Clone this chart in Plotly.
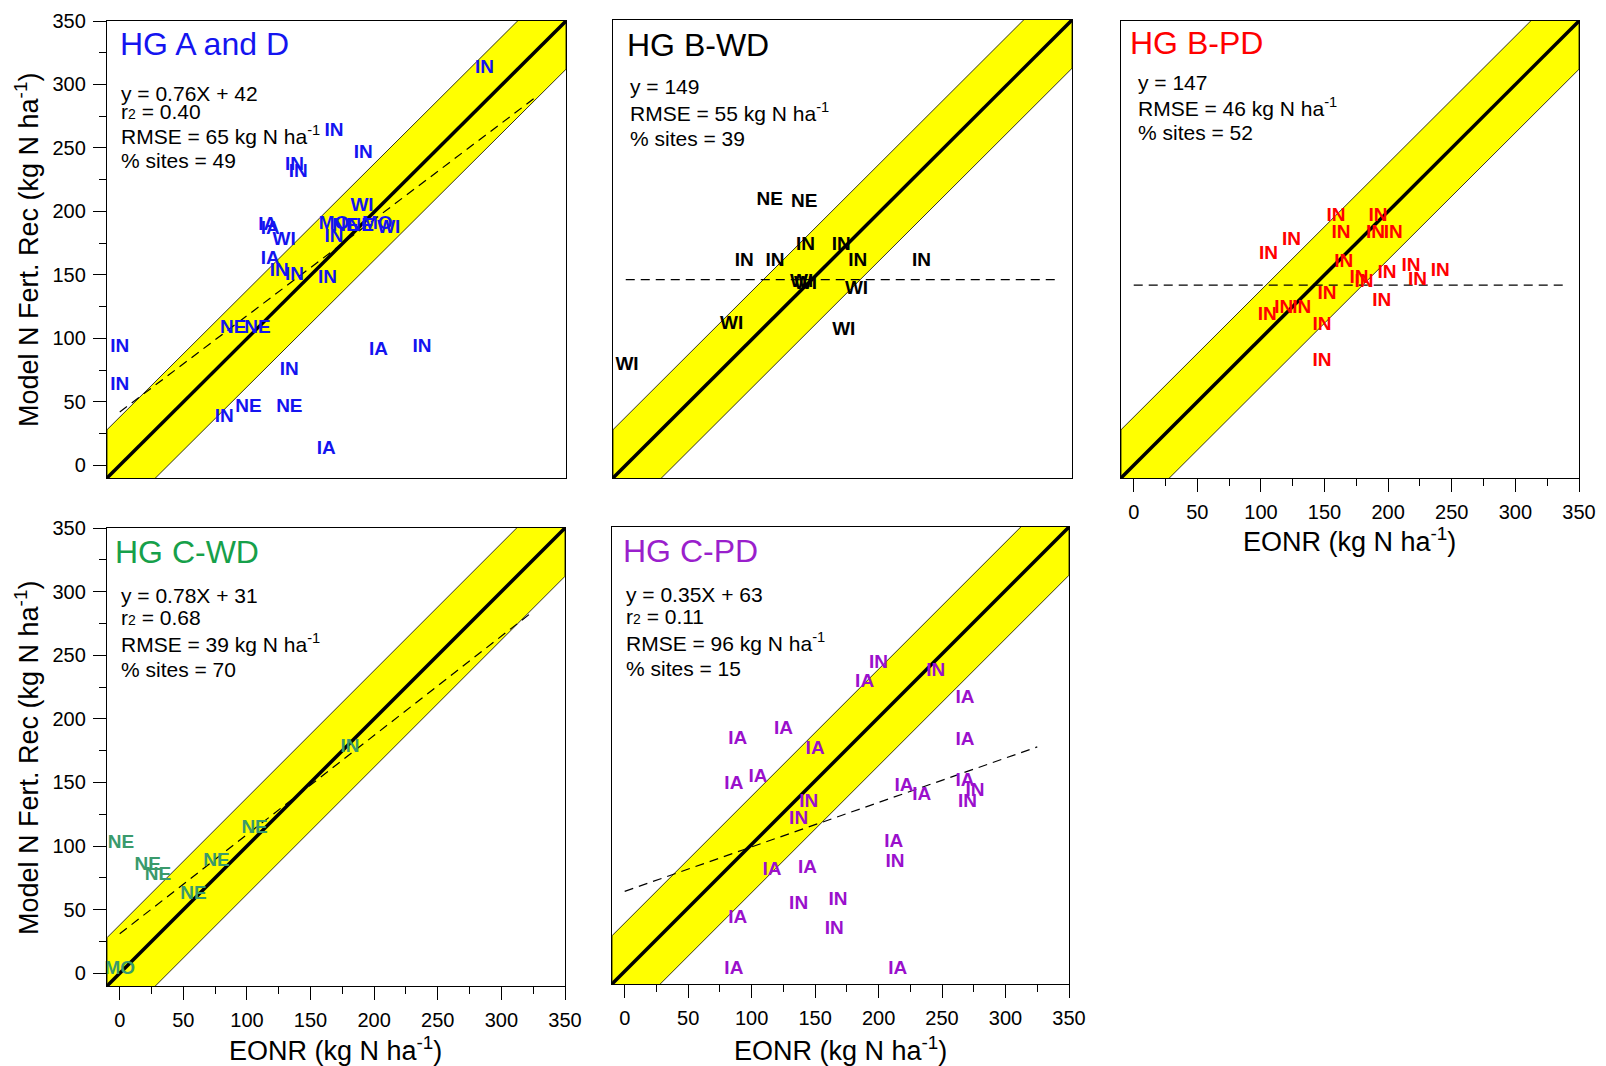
import plotly.graph_objects as go

W, H = 1606, 1066
FONT = "Arial, Liberation Sans, sans-serif"

# ---------------- data ----------------
AX_MIN, AX_MAX = -10, 350
BAND = 38  # half-width of the yellow acceptance band (kg N/ha)

titles = ["HG A and D", "HG B-WD", "HG B-PD", "HG C-WD", "HG C-PD"]
title_colors = ["#1414F0", "#000000", "#FF0000", "#16A04A", "#9A1FCC"]
label_colors = ["#1414F0", "#000000", "#FF0000", "#3A9A6C", "#9A10CC"]

stats = [
    ["y = 0.76X + 42", "r<span style='font-size:14px'>2</span> = 0.40", "RMSE = 65 kg N ha<sup>-1</sup>", "% sites = 49"],
    ["y = 149", "RMSE = 55 kg N ha<sup>-1</sup>", "% sites = 39"],
    ["y = 147", "RMSE = 46 kg N ha<sup>-1</sup>", "% sites = 52"],
    ["y = 0.78X + 31", "r<span style='font-size:14px'>2</span> = 0.68", "RMSE = 39 kg N ha<sup>-1</sup>", "% sites = 70"],
    ["y = 0.35X + 63", "r<span style='font-size:14px'>2</span> = 0.11", "RMSE = 96 kg N ha<sup>-1</sup>", "% sites = 15"],
]

# regression (dashed) lines: slope, intercept, x start, x end
reg_slope = [0.76, 0.0, 0.0, 0.78, 0.35]
reg_icpt = [42, 146, 142, 31, 63]
reg_x0 = [0, 0, 0, 0, 0]
reg_x1 = [325, 341, 341, 325, 325]

# HG A and D
labels_A = ["IN", "IN", "IN", "IN", "IN", "WI", "IA", "IA", "WI", "MO", "NE", "NE", "MO", "WI", "IN",
            "IA", "IN", "IN", "IN", "NE", "NE", "IN", "IA", "IN", "IN", "IN", "NE", "NE", "IN", "IA"]
eonr_A = [286, 168, 191, 137, 140, 190, 116, 118, 129, 168, 177, 189, 202, 211, 168,
          118, 125, 137, 163, 89, 108, 0, 203, 237, 133, 0, 101, 133, 82, 162]
rec_A = [313, 263, 246, 236, 231, 204, 189, 186, 177, 190, 188, 188, 190, 187, 180,
         162, 153, 150, 147, 108, 108, 93, 91, 93, 75, 63, 46, 46, 38, 13]

# HG B-WD
labels_B = ["NE", "NE", "IN", "IN", "IN", "IN", "IN", "IN", "WI", "WI", "WI", "WI", "WI", "WI"]
eonr_B = [113, 140, 141, 169, 93, 117, 182, 232, 138, 141, 181, 83, 171, 1]
rec_B = [208, 207, 173, 173, 160, 160, 160, 160, 144, 142, 138, 111, 106, 79]

# HG B-PD
labels_C = ["IN"] * 21
eonr_C = [159, 192, 163, 190, 204, 124, 106, 165, 177, 181, 199, 218, 223, 241, 152, 195, 105, 118, 132, 148, 148]
rec_C = [196, 196, 183, 183, 183, 177, 166, 160, 147, 144, 151, 157, 146, 153, 135, 129, 118, 124, 124, 110, 82]

# HG C-WD
labels_D = ["IN", "NE", "NE", "NE", "NE", "NE", "NE", "MO"]
eonr_D = [181, 106, 1, 22, 30, 76, 58, 0]
rec_D = [178, 114, 102, 85, 77, 88, 62, 3]

# HG C-PD
labels_E = ["IN", "IA", "IN", "IA", "IA", "IA", "IA", "IA", "IA", "IA", "IN", "IN", "IA", "IA",
            "IA", "IN", "IN", "IA", "IN", "IA", "IA", "IN", "IN", "IN", "IA", "IA", "IA"]
eonr_E = [200, 189, 245, 268, 268, 125, 89, 150, 86, 105, 145, 137, 220, 234,
          268, 276, 270, 212, 213, 116, 144, 137, 168, 165, 89, 86, 215]
rec_E = [243, 228, 236, 215, 182, 191, 183, 175, 147, 153, 133, 120, 146, 139,
         150, 142, 133, 102, 86, 80, 81, 53, 56, 33, 42, 2, 2]

panel_labels = [labels_A, labels_B, labels_C, labels_D, labels_E]
panel_x = [eonr_A, eonr_B, eonr_C, eonr_D, eonr_E]
panel_y = [rec_A, rec_B, rec_C, rec_D, rec_E]

tick_vals = [0, 50, 100, 150, 200, 250, 300, 350]
x_title = "EONR (kg N ha<sup>-1</sup>)"
y_title = "Model N Fert. Rec (kg N ha<sup>-1</sup>)"

# ---------------- layout geometry (pixels) ----------------
boxes = [(107, 21, 566, 478), (613, 20, 1072, 478), (1121, 21, 1579, 478),
         (107, 528, 565, 986), (612, 527, 1069, 984)]
show_x = [False, False, True, True, True]
show_y = [True, False, False, True, False]
title_pos = [(118, 44), (625, 45), (1128, 43), (113, 552), (621, 551)]
stat_left = [119, 628, 1136, 119, 624]
stat_rows = [[93, 112, 135, 160], [87, 112, 138], [83, 107, 133], [595, 617, 643, 669], [594, 616, 642, 668]]

fig = go.Figure()
annotations = []


def px(x):
    return x / W


def py(y):
    return 1 - y / H


for i in range(5):
    n = "" if i == 0 else str(i + 1)
    xa, ya = "x" + n, "y" + n
    # yellow band
    bx = [AX_MIN, AX_MIN, AX_MAX, AX_MAX, AX_MIN]
    by = [AX_MIN + BAND, AX_MIN - BAND, AX_MAX - BAND, AX_MAX + BAND, AX_MIN + BAND]
    fig.add_trace(go.Scatter(x=bx, y=by, mode="lines", fill="toself", fillcolor="#FFFF00",
                             line=dict(color="black", width=0.8), xaxis=xa, yaxis=ya,
                             hoverinfo="skip", showlegend=False))
    # 1:1 line
    fig.add_trace(go.Scatter(x=[AX_MIN, AX_MAX], y=[AX_MIN, AX_MAX], mode="lines",
                             line=dict(color="black", width=3.5), xaxis=xa, yaxis=ya,
                             hoverinfo="skip", showlegend=False))
    # regression dashed line
    rx = [reg_x0[i], reg_x1[i]]
    ry = [reg_slope[i] * v + reg_icpt[i] for v in rx]
    fig.add_trace(go.Scatter(x=rx, y=ry, mode="lines",
                             line=dict(color="black", width=1.2, dash="9px,6px"), xaxis=xa, yaxis=ya,
                             hoverinfo="skip", showlegend=False))
    # site labels
    fig.add_trace(go.Scatter(x=panel_x[i], y=panel_y[i], mode="text", text=panel_labels[i],
                             textposition="middle center",
                             textfont=dict(family=FONT, size=19, color=label_colors[i], weight="bold"),
                             cliponaxis=False, xaxis=xa, yaxis=ya,
                             hoverinfo="skip", showlegend=False))

    l, t, r, b = boxes[i]
    common = dict(range=[AX_MIN, AX_MAX], showgrid=False, zeroline=False, showline=True, mirror=True,
                  automargin=False,
                  linecolor="black", linewidth=1.3, tickfont=dict(family=FONT, size=20, color="black"))
    xaxis = dict(common, domain=[px(l), px(r)], anchor=ya)
    yaxis = dict(common, domain=[py(b), py(t)], anchor=xa)
    if show_x[i]:
        xaxis.update(tickmode="array", tickvals=tick_vals, ticks="outside", ticklen=13, tickwidth=1,
                     tickcolor="black", ticklabelstandoff=3,
                     minor=dict(ticks="outside", ticklen=7, tick0=0, dtick=25, tickcolor="black", tickwidth=1))
    else:
        xaxis.update(showticklabels=False, ticks="")
    if show_y[i]:
        yaxis.update(tickmode="array", tickvals=tick_vals, ticks="outside", ticklen=13, tickwidth=1,
                     tickcolor="black", ticklabelstandoff=3,
                     minor=dict(ticks="outside", ticklen=7, tick0=0, dtick=25, tickcolor="black", tickwidth=1))
    else:
        yaxis.update(showticklabels=False, ticks="")
    fig.update_layout({"xaxis" + n: xaxis, "yaxis" + n: yaxis})

    # panel title
    tx, ty = title_pos[i]
    annotations.append(dict(x=px(tx), y=py(ty), xref="paper", yref="paper", text=titles[i],
                            showarrow=False, xanchor="left", yanchor="middle",
                            font=dict(family=FONT, size=32, color=title_colors[i])))
    # stats
    for s, yy in zip(stats[i], stat_rows[i]):
        annotations.append(dict(x=px(stat_left[i]), y=py(yy), xref="paper", yref="paper", text=s,
                                showarrow=False, xanchor="left", yanchor="middle",
                                font=dict(family=FONT, size=21, color="black")))

# axis titles
for (cx, cy) in [(1349, 540), (335, 1049), (840, 1049)]:
    annotations.append(dict(x=px(cx), y=py(cy), xref="paper", yref="paper", text=x_title,
                            showarrow=False, xanchor="center", yanchor="middle",
                            font=dict(family=FONT, size=27, color="black")))
for (cx, cy) in [(27, 250), (27, 758)]:
    annotations.append(dict(x=px(cx), y=py(cy), xref="paper", yref="paper", text=y_title,
                            showarrow=False, xanchor="center", yanchor="middle", textangle=-90,
                            font=dict(family=FONT, size=27, color="black")))

fig.update_layout(width=W, height=H, margin=dict(l=0, r=0, t=0, b=0, autoexpand=False),
                  paper_bgcolor="white", plot_bgcolor="white", annotations=annotations,
                  showlegend=False)

fig.write_html("out.html")
